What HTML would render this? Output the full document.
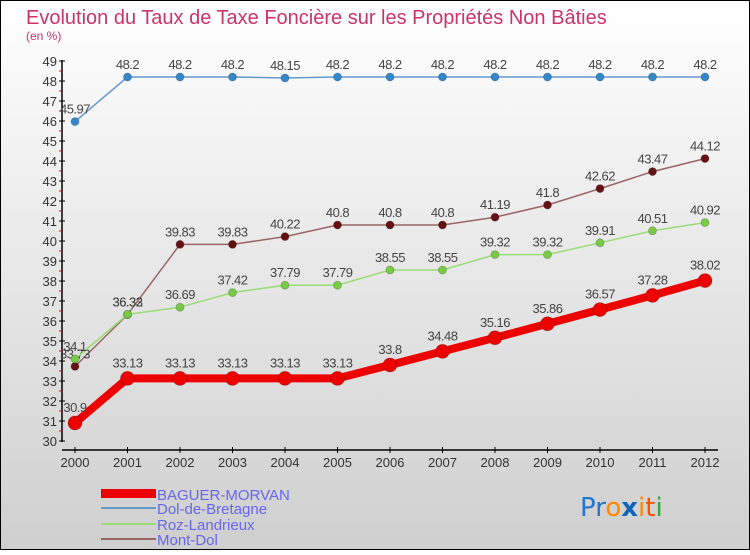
<!DOCTYPE html>
<html><head><meta charset="utf-8"><style>
body{margin:0}
#c{width:750px;height:550px;position:relative;font-family:"Liberation Sans",sans-serif}
</style></head><body>
<div id="c">
<svg id="s" width="750" height="550" xmlns="http://www.w3.org/2000/svg">
<defs><linearGradient id="bg" x1="0" y1="0" x2="0" y2="1"><stop offset="0" stop-color="#ffffff"/><stop offset="1" stop-color="#cfcfcf"/></linearGradient></defs>
<rect x="0.5" y="0.5" width="749" height="549" fill="url(#bg)" stroke="#000"/>
<text x="26" y="24" font-size="20" fill="#cc3366">Evolution du Taux de Taxe Foncière sur les Propriétés Non Bâties</text>
<text x="26" y="40" font-size="12" fill="#cc3366">(en %)</text>
<g id="axes"></g><g id="series"></g>
<g>
<rect x="101" y="489" width="55" height="9" fill="#ee0000"/>
<text x="157" y="500" font-size="15" fill="#6666ee">BAGUER-MORVAN</text>
<rect x="101" y="507" width="55" height="2" fill="#6699cc"/>
<text x="157" y="514" font-size="15" fill="#6666ee">Dol-de-Bretagne</text>
<rect x="101" y="523" width="55" height="2" fill="#99dd77"/>
<text x="157" y="530" font-size="15" fill="#6666ee">Roz-Landrieux</text>
<rect x="101" y="538" width="55" height="2" fill="#996666"/>
<text x="157" y="545" font-size="15" fill="#6666ee">Mont-Dol</text>
</g>
<g font-size="26" font-family="'DejaVu Sans',sans-serif">
<text x="580" y="516"><tspan fill="#2277cc">Pr</tspan><tspan fill="#ff8800">o</tspan><tspan fill="#1166bb" font-weight="bold">x</tspan><tspan fill="#ff8800">i</tspan><tspan fill="#ee5500">t</tspan><tspan fill="#33aa33">i</tspan></text>
</g>
</svg>
</div>
<script>
const years=[2000,2001,2002,2003,2004,2005,2006,2007,2008,2009,2010,2011,2012];
const baguer=[30.9,33.13,33.13,33.13,33.13,33.13,33.8,34.48,35.16,35.86,36.57,37.28,38.02];
const dol=[45.97,48.2,48.2,48.2,48.15,48.2,48.2,48.2,48.2,48.2,48.2,48.2,48.2];
const roz=[34.1,36.33,36.69,37.42,37.79,37.79,38.55,38.55,39.32,39.32,39.91,40.51,40.92];
const mont=[33.73,36.32,39.83,39.83,40.22,40.8,40.8,40.8,41.19,41.8,42.62,43.47,44.12];
const yTicks=[30,31,32,33,34,35,36,37,38,39,40,41,42,43,44,45,46,47,48,49];
const NS="http://www.w3.org/2000/svg";
const X=i=>75+i*52.5, Y=v=>441-(v-30)*20;
function mk(t,a,p){const e=document.createElementNS(NS,t);for(const k in a)e.setAttribute(k,a[k]);p.appendChild(e);return e;}
const ax=document.getElementById('axes');
const yl=mk('line',{x1:62,y1:60,x2:62,y2:442,stroke:'#000','stroke-width':1.5},ax);


const xl=mk('line',{x1:62,y1:450,x2:718,y2:450,stroke:'#000','stroke-width':1.5},ax);


yTicks.forEach(v=>{
 mk('line',{x1:59,x2:65,y1:Y(v),y2:Y(v),stroke:'#000'},ax);
 if(v<49)mk('line',{x1:59,x2:62,y1:Y(v+0.5),y2:Y(v+0.5),stroke:'#e00'},ax);
 const t=mk('text',{x:57,y:Y(v)+5,'font-size':13,fill:'#333','text-anchor':'end'},ax);t.textContent=v;
 
 
});
years.forEach((y,i)=>{
 mk('line',{x1:X(i),x2:X(i),y1:447,y2:453,stroke:'#000'},ax);
 const t=mk('text',{x:X(i),y:467,'font-size':13,fill:'#333','text-anchor':'middle'},ax);t.textContent=y;
 
 
});
const sg=document.getElementById('series');
function series(name,vals,color,dot,w,r){
 const g=mk('g',{},sg);
 
 
 mk('polyline',{points:vals.map((v,i)=>X(i)+','+Y(v)).join(' '),fill:'none',stroke:color,'stroke-width':w,'stroke-linejoin':'round'},g);
 vals.forEach((v,i)=>{
  const c=mk('circle',{cx:X(i),cy:Y(v),r:r,fill:dot,stroke:'rgba(0,0,0,0.2)'},g);
  
  
  const t=mk('text',{x:X(i),y:Y(v)-(r+4),'font-size':13,fill:'#444','text-anchor':'middle','letter-spacing':'-0.5'},g);t.textContent=v;
 });
}
series('dol',dol,'#6699cc','#3388cc',1.5,4);
series('mont',mont,'#996666','#661111',1.5,4);
series('roz',roz,'#99dd77','#77cc44',1.5,4);
series('baguer',baguer,'#ee0000','#ee0000',8,7);
</script>
</body></html>
